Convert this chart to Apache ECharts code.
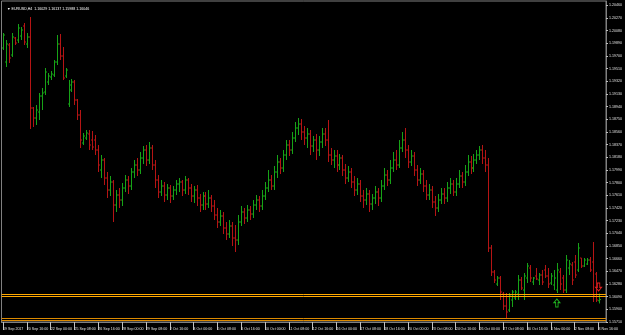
<!DOCTYPE html>
<html>
<head>
<meta charset="utf-8">
<script src="https://cdn.jsdelivr.net/npm/echarts@6/dist/echarts.min.js"></script>
<style>
  html, body { margin: 0; padding: 0; background: #000; }
  #chart { width: 625px; height: 335px; }
</style>
</head>
<body>
<div id="chart"></div>
<script>
// trading days shown on the chart (H4, 6 bars a day)
var days = ['19 Sep', '20 Sep', '21 Sep', '22 Sep', '25 Sep', '26 Sep', '27 Sep', '28 Sep', '29 Sep',
  '2 Oct', '3 Oct', '4 Oct', '5 Oct', '6 Oct', '9 Oct', '10 Oct', '11 Oct', '12 Oct', '13 Oct',
  '16 Oct', '17 Oct', '18 Oct', '19 Oct', '20 Oct', '23 Oct', '24 Oct', '25 Oct', '26 Oct', '27 Oct',
  '30 Oct', '31 Oct', '1 Nov', '2 Nov', '3 Nov'];
var hours = ['00:00', '04:00', '08:00', '12:00', '16:00', '20:00'];

var opens = [
  1.1982, 1.1961, 1.19865, 1.19715, 1.1997, 1.1994, 1.2000, 1.2015, 1.1988, 1.19985,
  1.1892, 1.1877, 1.1886, 1.1910, 1.1916, 1.1931, 1.19385, 1.19415, 1.1961, 1.1988,
  1.1970, 1.1940, 1.1898, 1.1919, 1.1931, 1.1904, 1.18815, 1.18395, 1.1847, 1.1853,
  1.1844, 1.1844, 1.1829, 1.1799, 1.1814, 1.1787, 1.1769, 1.1781, 1.17465, 1.17615,
  1.1754, 1.1772, 1.1784, 1.1775, 1.1796, 1.18065, 1.1799, 1.1817, 1.1829, 1.1814,
  1.1832, 1.18065, 1.1784, 1.1766, 1.1775, 1.17615, 1.1772, 1.1760, 1.1769, 1.1778,
  1.1781, 1.1769, 1.1784, 1.1772, 1.1760, 1.1769, 1.1757, 1.17465, 1.1760, 1.1748,
  1.1757, 1.1745, 1.17315, 1.1721, 1.1730, 1.1712, 1.1703, 1.1715, 1.1697, 1.1694,
  1.1721, 1.1736, 1.1727, 1.1739, 1.1733, 1.17465, 1.1754, 1.1745, 1.1760, 1.1772,
  1.1784, 1.1775, 1.1796, 1.1811, 1.1802, 1.18215, 1.18365, 1.1829, 1.1847, 1.1862,
  1.1868, 1.1856, 1.1847, 1.1853, 1.1835, 1.1844, 1.1829, 1.1841, 1.1853, 1.1844,
  1.18215, 1.1814, 1.1820, 1.18065, 1.1817, 1.1799, 1.1787, 1.1796, 1.1781, 1.1769,
  1.1778, 1.1760, 1.1754, 1.1763, 1.1748, 1.1757, 1.1766, 1.1757, 1.1775, 1.17915,
  1.1784, 1.1802, 1.1814, 1.18065, 1.1832, 1.1844, 1.1829, 1.1811, 1.1820, 1.1799,
  1.1784, 1.1793, 1.1775, 1.17615, 1.1769, 1.1751, 1.1742, 1.1754, 1.1763, 1.1757,
  1.1772, 1.1778, 1.1766, 1.1778, 1.1790, 1.1781, 1.1796, 1.1811, 1.1802, 1.1814,
  1.18215, 1.1829, 1.1817, 1.18065, 1.1682, 1.1646, 1.1628, 1.1637, 1.1613, 1.1595,
  1.1589, 1.1604, 1.1607, 1.1613, 1.1634, 1.1619, 1.1637, 1.1652, 1.1631, 1.1640,
  1.1634, 1.16415, 1.1649, 1.1640, 1.16295, 1.16265, 1.1619, 1.1646, 1.1637, 1.1619,
  1.1652, 1.16565, 1.1661, 1.1649, 1.1667, 1.1655, 1.1658, 1.1664, 1.1661, 1.1643,
  1.16029
];
var highs = [
  1.20045, 1.1994, 1.19895, 1.20045, 1.19985, 1.2018, 1.20135, 1.20195, 1.20045, 1.20285,
  1.18935, 1.18965, 1.19145, 1.1922, 1.1952, 1.19445, 1.19475, 1.1964, 1.20015, 1.2003,
  1.19835, 1.1952, 1.1934, 1.19355, 1.1934, 1.19055, 1.1889, 1.18545, 1.1859, 1.1859,
  1.18575, 1.18515, 1.18365, 1.18215, 1.1817, 1.1796, 1.1790, 1.1784, 1.1769, 1.1772,
  1.17795, 1.17915, 1.1790, 1.1802, 1.1814, 1.1817, 1.1826, 1.1835, 1.18365, 1.1841,
  1.18365, 1.1814, 1.17915, 1.1784, 1.1781, 1.1778, 1.17765, 1.1775, 1.1784, 1.1787,
  1.1784, 1.1790, 1.1787, 1.1778, 1.1775, 1.17765, 1.1763, 1.1766, 1.1766, 1.1769,
  1.17615, 1.1754, 1.1742, 1.1739, 1.1736, 1.1721, 1.1724, 1.1721, 1.17165, 1.17315,
  1.1745, 1.1742, 1.17465, 1.1745, 1.1754, 1.17615, 1.1760, 1.1769, 1.1781, 1.1799,
  1.17915, 1.1805, 1.18215, 1.1817, 1.1829, 1.1844, 1.1844, 1.1856, 1.1871, 1.1877,
  1.18755, 1.1865, 1.1862, 1.1859, 1.1850, 1.1853, 1.1850, 1.1862, 1.1862, 1.1874,
  1.1832, 1.1829, 1.1829, 1.1823, 1.18215, 1.1808, 1.1805, 1.1802, 1.1790, 1.1787,
  1.1784, 1.1769, 1.1772, 1.1769, 1.1763, 1.1775, 1.1772, 1.1784, 1.1802, 1.1799,
  1.1814, 1.1826, 1.1829, 1.1844, 1.1856, 1.1862, 1.18365, 1.1829, 1.1826, 1.18065,
  1.1802, 1.1799, 1.1784, 1.1778, 1.1775, 1.1760, 1.1763, 1.1772, 1.1772, 1.1781,
  1.1787, 1.1784, 1.1787, 1.1799, 1.1796, 1.18065, 1.18215, 1.1820, 1.1823, 1.1829,
  1.1835, 1.18365, 1.1829, 1.1817, 1.16865, 1.1649, 1.1640, 1.1640, 1.1616, 1.16145,
  1.16145, 1.1619, 1.1619, 1.16415, 1.16385, 1.16445, 1.16595, 1.16565, 1.16385, 1.1652,
  1.16445, 1.1649, 1.16565, 1.1652, 1.16445, 1.1649, 1.16595, 1.1652, 1.16415, 1.16715,
  1.1664, 1.1661, 1.16715, 1.16895, 1.1667, 1.1667, 1.1667, 1.16685, 1.1691, 1.1646,
  1.16137
];
var lows = [
  1.1979, 1.19535, 1.19595, 1.19685, 1.19865, 1.19895, 1.1994, 1.19865, 1.1982, 1.18605,
  1.18635, 1.18665, 1.1874, 1.1889, 1.19115, 1.19265, 1.1934, 1.19385, 1.19565, 1.1964,
  1.1934, 1.1937, 1.18935, 1.1916, 1.18965, 1.1874, 1.1832, 1.18365, 1.1844, 1.1829,
  1.1829, 1.18215, 1.1796, 1.1787, 1.17765, 1.1757, 1.1760, 1.1721, 1.1736, 1.1742,
  1.1745, 1.1766, 1.1763, 1.1769, 1.1787, 1.1790, 1.1793, 1.1808, 1.1805, 1.1808,
  1.1799, 1.1772, 1.1757, 1.1760, 1.1751, 1.1754, 1.17495, 1.1754, 1.17615, 1.1766,
  1.1760, 1.1763, 1.17615, 1.1751, 1.17495, 1.1745, 1.1736, 1.1739, 1.1739, 1.1742,
  1.1736, 1.1724, 1.1712, 1.1715, 1.1703, 1.1694, 1.1697, 1.1685, 1.1676, 1.16865,
  1.1715, 1.1718, 1.1721, 1.1724, 1.1727, 1.1739, 1.1736, 1.1739, 1.1754, 1.1766,
  1.1769, 1.1769, 1.1787, 1.1793, 1.1796, 1.1814, 1.1820, 1.1823, 1.1841, 1.18515,
  1.1844, 1.18365, 1.1832, 1.18215, 1.1826, 1.1814, 1.1820, 1.1832, 1.1835, 1.1811,
  1.18065, 1.1802, 1.1796, 1.1799, 1.1790, 1.1778, 1.1781, 1.1772, 1.1760, 1.17615,
  1.1751, 1.1742, 1.17465, 1.1736, 1.1739, 1.1748, 1.1745, 1.1751, 1.1769, 1.1775,
  1.1778, 1.1796, 1.1799, 1.1802, 1.1826, 1.1817, 1.1802, 1.1805, 1.1790, 1.1775,
  1.1778, 1.1766, 1.1754, 1.1754, 1.1742, 1.1730, 1.1736, 1.1748, 1.1748, 1.1751,
  1.1763, 1.1760, 1.1760, 1.1772, 1.1772, 1.1775, 1.1790, 1.1793, 1.1796, 1.1808,
  1.1814, 1.1808, 1.1796, 1.1676, 1.1640, 1.16295, 1.1625, 1.1604, 1.1589, 1.1577,
  1.1586, 1.15935, 1.1604, 1.1604, 1.1619, 1.1604, 1.16295, 1.1631, 1.16265, 1.1634,
  1.16265, 1.16265, 1.1637, 1.1622, 1.16265, 1.1619, 1.16145, 1.1619, 1.16145, 1.16145,
  1.16415, 1.16265, 1.1637, 1.1646, 1.1652, 1.16535, 1.16565, 1.1646, 1.1601, 1.1601,
  1.15988
];
var closes = [
  1.20015, 1.1988, 1.1967, 1.19985, 1.19895, 1.2012, 1.2009, 1.1991, 1.19985, 1.1892,
  1.1877, 1.1889, 1.1910, 1.19145, 1.1946, 1.1940, 1.1943, 1.1961, 1.1988, 1.1970,
  1.1937, 1.1949, 1.19265, 1.1931, 1.1904, 1.18815, 1.1844, 1.1850, 1.18545, 1.18365,
  1.18335, 1.1829, 1.18065, 1.1814, 1.1787, 1.1769, 1.1781, 1.17465, 1.17615, 1.1754,
  1.1772, 1.1784, 1.1775, 1.1796, 1.18065, 1.1799, 1.1817, 1.1829, 1.1814, 1.1832,
  1.18065, 1.1784, 1.1766, 1.1775, 1.17615, 1.1772, 1.1760, 1.1769, 1.1778, 1.1781,
  1.1769, 1.1784, 1.1772, 1.1760, 1.1769, 1.1757, 1.17465, 1.1760, 1.1748, 1.1757,
  1.1745, 1.17315, 1.1721, 1.1730, 1.1712, 1.1703, 1.1715, 1.1697, 1.1694, 1.1721,
  1.1736, 1.1727, 1.1739, 1.1733, 1.17465, 1.1754, 1.1745, 1.1760, 1.1772, 1.1784,
  1.1775, 1.1796, 1.1811, 1.1802, 1.18215, 1.18365, 1.1829, 1.1847, 1.1862, 1.1868,
  1.1856, 1.1847, 1.1853, 1.1835, 1.1844, 1.1829, 1.1841, 1.1853, 1.1844, 1.18215,
  1.1814, 1.1820, 1.18065, 1.1817, 1.1799, 1.1787, 1.1796, 1.1781, 1.1769, 1.1778,
  1.1760, 1.1754, 1.1763, 1.1748, 1.1757, 1.1766, 1.1757, 1.1775, 1.17915, 1.1784,
  1.1802, 1.1814, 1.18065, 1.1832, 1.1844, 1.1829, 1.1811, 1.1820, 1.1799, 1.1784,
  1.1793, 1.1775, 1.17615, 1.1769, 1.1751, 1.1742, 1.1754, 1.1763, 1.1757, 1.1772,
  1.1778, 1.1766, 1.1778, 1.1790, 1.1781, 1.1796, 1.1811, 1.1802, 1.1814, 1.18215,
  1.1829, 1.1817, 1.18065, 1.1682, 1.1646, 1.1634, 1.1637, 1.1616, 1.1595, 1.1586,
  1.1610, 1.1616, 1.1616, 1.1634, 1.1622, 1.1640, 1.1655, 1.1637, 1.1637, 1.16355,
  1.16415, 1.1631, 1.1640, 1.1628, 1.1640, 1.1637, 1.1649, 1.1628, 1.1619, 1.1664,
  1.1658, 1.1634, 1.16415, 1.1682, 1.1655, 1.1664, 1.1664, 1.1649, 1.1610, 1.1604,
  1.16046
];

// horizontal levels drawn on the chart
var levelsUpper = [1.16125, 1.16093];
var levelsLower = [1.15773, 1.15733];
// arrow objects: [bar index, price]
var arrowUp = [186, 1.15995];
var arrowDown = [200, 1.16235];

var upColor = '#17a317';
var downColor = '#b51414';
var font = 'Liberation Sans';

// categories: 19 Sep 08:00 .. 3 Nov 16:00, plus two empty slots (chart shift)
var allSlots = [];
days.forEach(function (d) {
  hours.forEach(function (h) { allSlots.push(d + ' ' + h); });
});
var categories = allSlots.slice(2, 2 + opens.length).concat(['', '']);

var bars = opens.map(function (o, i) {
  return [i, o, highs[i], lows[i], closes[i]];
});

function renderBar(params, api) {
  var i = api.value(0);
  var o = api.coord([i, api.value(1)]);
  var h = api.coord([i, api.value(2)]);
  var l = api.coord([i, api.value(3)]);
  var c = api.coord([i, api.value(4)]);
  var x = Math.round(o[0]) + 0.5;
  var color = api.value(4) >= api.value(1) ? upColor : downColor;
  var st = { stroke: color, lineWidth: 1 };
  return {
    type: 'group',
    children: [
      { type: 'line', shape: { x1: x, y1: h[1], x2: x, y2: l[1] }, style: st },
      { type: 'line', shape: { x1: x - 1.5, y1: o[1], x2: x, y2: o[1] }, style: st },
      { type: 'line', shape: { x1: x, y1: c[1], x2: x + 1.5, y2: c[1] }, style: st }
    ]
  };
}

var levelLines = levelsUpper.map(function (v) {
  return { yAxis: v, lineStyle: { color: '#ffa800', width: 1, type: 'solid' } };
}).concat(levelsLower.map(function (v) {
  return { yAxis: v, lineStyle: { color: '#dc8a00', width: 1, type: 'solid' } };
}));
levelLines.push({
  yAxis: closes[closes.length - 1],
  lineStyle: { opacity: 0 },
  label: {
    show: true, position: 'end', distance: 1,
    formatter: function (p) { return Number(p.value).toFixed(5); },
    backgroundColor: '#ffffff', color: '#000', fontSize: 3.6, fontFamily: font,
    padding: [1, 2, 1, 1]
  }
});

var chart = echarts.init(document.getElementById('chart'));
chart.setOption({
  backgroundColor: '#000000',
  animation: false,
  title: {
    text: '\u25BC EURUSD,H4  1.16029 1.16137 1.15988 1.16046',
    left: 2, top: 2,
    textStyle: { color: '#ffffff', fontSize: 3.6, fontWeight: 'normal', fontFamily: font }
  },
  grid: {
    left: 0, right: 16, top: 1, bottom: 13,
    show: true, borderColor: '#808080', borderWidth: 1, backgroundColor: '#000'
  },
  xAxis: {
    type: 'category',
    data: categories,
    boundaryGap: true,
    axisLine: { lineStyle: { color: '#808080' } },
    axisTick: { show: true, interval: 7, alignWithLabel: true, length: 8, lineStyle: { color: '#c0c0c0' } },
    axisLabel: {
      interval: 7, align: 'left', margin: 5, color: '#e0e0e0',
      fontSize: 3.6, fontFamily: font,
      formatter: function (v, i) { return i === 0 ? '19 Sep 2017' : v; }
    },
    splitLine: { show: false }
  },
  yAxis: {
    type: 'value',
    position: 'right',
    min: 1.1571, max: 1.20525, interval: 0.0019,
    axisLine: { show: true, lineStyle: { color: '#808080' } },
    axisTick: { show: true, length: 2, lineStyle: { color: '#c0c0c0' } },
    axisLabel: {
      color: '#e0e0e0', fontSize: 3.6, fontFamily: font, margin: 3,
      showMaxLabel: false,
      formatter: function (v) { return v.toFixed(5); }
    },
    splitLine: { show: false }
  },
  series: [{
    type: 'custom',
    renderItem: renderBar,
    data: bars,
    encode: { x: 0, y: [1, 2, 3, 4] },
    clip: false
  }, {
    // carrier for the level lines, price label and arrow objects
    type: 'line',
    data: categories.map(function () { return null; }),
    symbol: 'none',
    lineStyle: { opacity: 0 },
    markLine: {
      silent: true, symbol: 'none', animation: false, precision: 5,
      label: { show: false },
      data: levelLines
    },
    markPoint: {
      silent: true, animation: false,
      label: { show: false },
      data: [
        {
          coord: arrowUp, symbol: 'path://M5,0 L10,5 L7,5 L7,11 L3,11 L3,5 L0,5 Z', symbolSize: [6, 8],
          itemStyle: { color: 'rgba(0,0,0,0)', borderColor: '#1fb01f', borderWidth: 1 }
        },
        {
          coord: arrowDown, symbol: 'path://M3,0 L7,0 L7,6 L10,6 L5,11 L0,6 L3,6 Z', symbolSize: [6, 8],
          itemStyle: { color: 'rgba(0,0,0,0)', borderColor: '#e02020', borderWidth: 1 }
        }
      ]
    }
  }]
});
</script>
</body>
</html>
